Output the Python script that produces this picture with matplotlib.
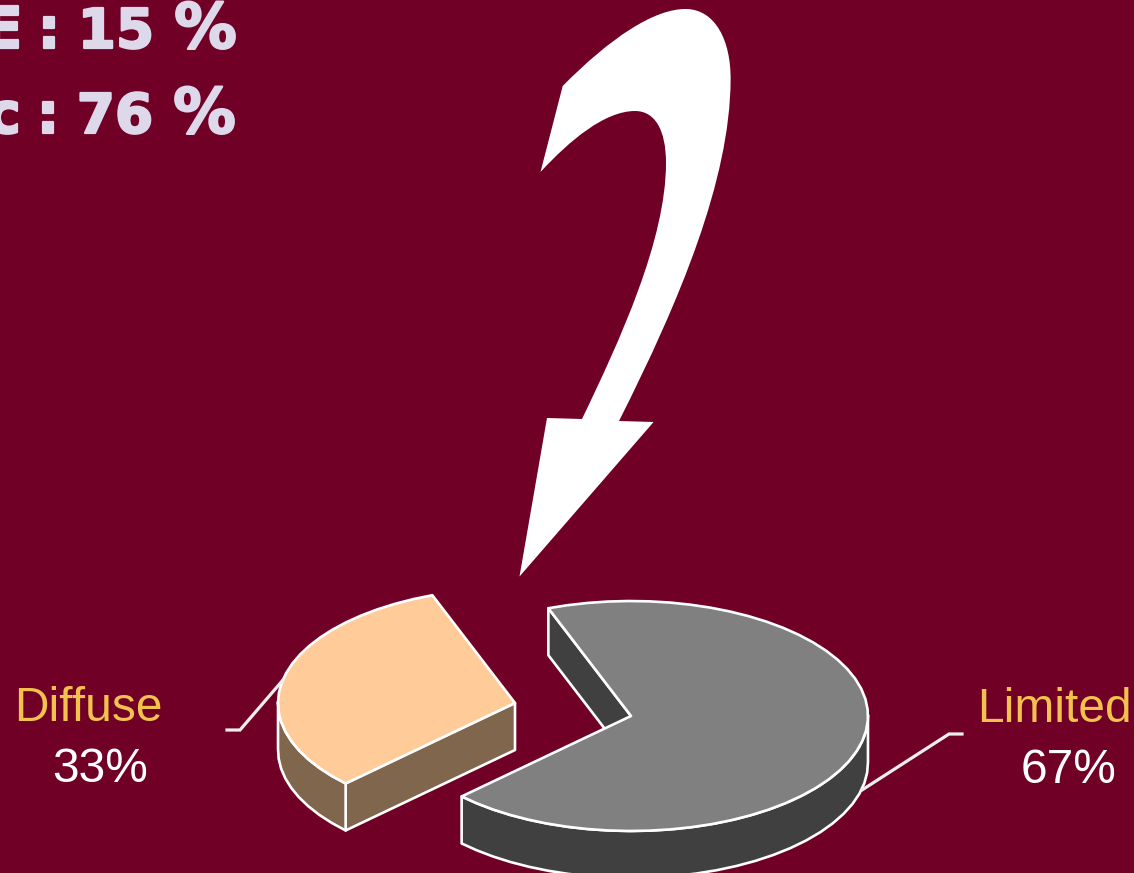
import numpy as np
import matplotlib
matplotlib.use("Agg")
import matplotlib.pyplot as plt
import matplotlib.patheffects as pe
from matplotlib.patches import PathPatch, Polygon
from matplotlib.path import Path

# Chart data
categories = ["Diffuse", "Limited"]
shares = [33, 67]
share_labels = ["33%", "67%"]
headline_rows = [("E", "15"), ("c", "76")]

BG = "#700026"
TOP_COLORS = {"Diffuse": "#FFCC99", "Limited": "#808080"}
SIDE_COLORS = {"Diffuse": "#80664C", "Limited": "#404040"}
EDGE = "#FFFFFF"
LABEL_GOLD = "#F2C14E"
HEAD_COLOR = "#DDD8EA"

fig = plt.figure(figsize=(11.34, 8.73), dpi=100, facecolor=BG)
ax = fig.add_axes([0, 0, 1, 1])
ax.set_xlim(0, 1134)
ax.set_ylim(873, 0)
ax.axis("off")

# Pie geometry
RX, RY, DEPTH = 237, 115, 47
START_ANGLE = 108
FORESHORTEN = 2.8
APEX = {"Diffuse": (515, 703), "Limited": (631, 716)}
FACING_ANGLE = START_ANGLE + shares[0] * 3.6 / 2


def projected(a):
    """Slice angle in degrees to its angle on the tilted ellipse, in radians."""
    a = np.asarray(a, dtype=float)
    return np.radians(a - FORESHORTEN * np.sin(np.radians(a - FACING_ANGLE)))


def rim(apex, a0, a1):
    """Points of the elliptical rim between two angles, in degrees."""
    t = projected(np.linspace(a0, a1, max(int(abs(a1 - a0) / 5), 2) + 1))
    return np.column_stack([apex[0] + RX * np.cos(t), apex[1] - RY * np.sin(t)])


def draw_slice(name, a0, a1):
    apex = APEX[name]
    style = dict(edgecolor=EDGE, linewidth=1.9, joinstyle="round")
    side = dict(facecolor=SIDE_COLORS[name], **style)
    drop = np.array([0, DEPTH])
    apex_pt = np.array(apex, dtype=float)

    # Radial wall at the far end of the sweep faces the viewer
    r = projected(a1)
    edge_pt = apex_pt + [RX * np.cos(r), -RY * np.sin(r)]
    ax.add_patch(Polygon([apex_pt, edge_pt, edge_pt + drop, apex_pt + drop], zorder=2, **side))

    # Outer wall: only the part of the rim on the near half of the ellipse
    lo, hi = max(a0, 180), min(a1, 360)
    if hi > lo:
        arc = rim(apex, lo, hi)
        ax.add_patch(Polygon(np.vstack([arc, (arc + drop)[::-1]]), zorder=2, **side))

    # Top face
    arc = rim(apex, a0, a1)
    ax.add_patch(Polygon(np.vstack([[apex], arc]), facecolor=TOP_COLORS[name], zorder=3, **style))


angle = START_ANGLE
for name, share in zip(categories, shares):
    sweep = share * 3.6
    draw_slice(name, angle, angle + sweep)
    angle += sweep

# Leader lines from the slices to their labels
ax.plot([283, 240, 227], [680, 730, 730], color="#EEEEEE", lw=2.3, zorder=4, solid_joinstyle="miter")
ax.plot([862, 949, 962], [790, 734, 734], color="#EEEEEE", lw=2.3, zorder=4, solid_joinstyle="miter")

# Slice labels
label_font = dict(family="Liberation Sans", fontsize=34.5, va="baseline", ha="center")
ax.text(88, 721, categories[0], color=LABEL_GOLD, **label_font)
ax.text(100, 782, share_labels[0], color="white", **label_font)
ax.text(1054, 722, categories[1], color=LABEL_GOLD, **label_font)
ax.text(1069, 783, share_labels[1], color="white", **label_font)

# Headline figures running off the left edge, set piece by piece for tight spacing
head_font = dict(family="DejaVu Sans", fontweight="bold", color=HEAD_COLOR, va="baseline", ha="center",
                 path_effects=[pe.withStroke(linewidth=1.6, foreground=HEAD_COLOR)])
for (lead, number), baseline, dx, lead_x in zip(headline_rows, [48, 133], [0, -1], [3, 4]):
    ax.text(lead_x, baseline, lead, fontsize=41, **head_font)
    ax.text(49 + dx, baseline, ":", fontsize=41, **head_font)
    ax.text(116 + dx, baseline, number, fontsize=39.5, **head_font)
    ax.text(205.5 + dx, baseline, "%", fontsize=45, **head_font)

# Curved white arrow pointing down at the Diffuse slice
arrow_nodes = [
    (Path.MOVETO, (562.7, 86)),
    (Path.CURVE4, (610, 38)), (Path.CURVE4, (655, 8)), (Path.CURVE4, (687, 9)),
    (Path.CURVE4, (715, 10)), (Path.CURVE4, (731, 40)), (Path.CURVE4, (730.6, 80)),
    (Path.CURVE4, (730, 180)), (Path.CURVE4, (680, 300)), (Path.CURVE4, (619, 421)),
    (Path.LINETO, (653.6, 422)),
    (Path.LINETO, (519.5, 576.5)),
    (Path.LINETO, (547, 418)),
    (Path.LINETO, (582, 419)),
    (Path.CURVE4, (620, 340)), (Path.CURVE4, (666, 240)), (Path.CURVE4, (666, 163)),
    (Path.CURVE4, (666, 130)), (Path.CURVE4, (655, 111)), (Path.CURVE4, (635, 111)),
    (Path.CURVE4, (605, 111)), (Path.CURVE4, (570, 140)), (Path.CURVE4, (540.5, 172)),
    (Path.LINETO, (562.7, 86)),
]
codes, verts = zip(*arrow_nodes)
ax.add_patch(PathPatch(Path(verts, codes), facecolor="white", edgecolor="none", zorder=5))

fig.savefig("out.png", dpi=100, facecolor=BG)
